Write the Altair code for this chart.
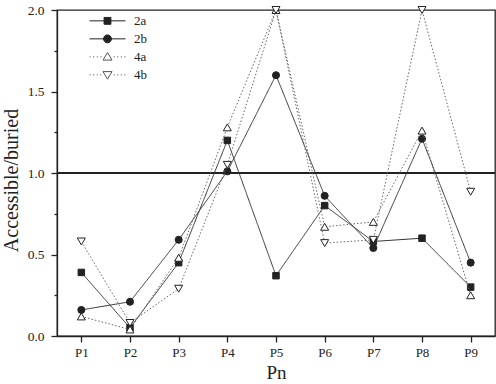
import altair as alt
import pandas as pd

# ---- data ----
positions = ["P1", "P2", "P3", "P4", "P5", "P6", "P7", "P8", "P9"]
series_names = ["2a", "2b", "4a", "4b"]
values_2a = [0.39, 0.05, 0.45, 1.20, 0.37, 0.80, 0.58, 0.60, 0.30]
values_2b = [0.16, 0.21, 0.59, 1.01, 1.60, 0.86, 0.54, 1.21, 0.45]
values_4a = [0.12, 0.04, 0.48, 1.28, 2.00, 0.67, 0.70, 1.26, 0.25]
values_4b = [0.58, 0.08, 0.29, 1.05, 2.00, 0.57, 0.59, 2.00, 0.885]
reference_level = 1.0
y_tick_values = [0.0, 0.25, 0.5, 0.75, 1.0, 1.25, 1.5, 1.75, 2.0]

series_values = {"2a": values_2a, "2b": values_2b, "4a": values_4a, "4b": values_4b}
rows = []
for s in series_names:
    for p, v in zip(positions, series_values[s]):
        rows.append({"series": s, "Pn": p, "value": v})
df = pd.DataFrame(rows)

# ---- styles ----
FONT = "Times New Roman, Liberation Serif, Tinos, serif"
INK = "#222222"
styles = {
    "2a": dict(shape="square", fill=INK, dash=[1, 0], color="#333333", size=42),
    "2b": dict(shape="circle", fill=INK, dash=[1, 0], color="#333333", size=50),
    "4a": dict(shape="triangle-up", fill="white", dash=[1.5, 2], color="#666666", size=64),
    "4b": dict(shape="triangle-down", fill="white", dash=[1.5, 2], color="#666666", size=64),
}

solid = "M-1,0H1"
dots = "M-1,0H-0.94M-0.8,0H-0.74M-0.6,0H-0.54M-0.4,0H-0.34M0.34,0H0.4M0.54,0H0.6M0.74,0H0.8M0.94,0H1"
legend_paths = [
    solid + "M-0.19,-0.19H0.19V0.19H-0.19Z",
    solid + "M0.22,0A0.22,0.22,0,1,1,-0.22,0A0.22,0.22,0,1,1,0.22,0Z",
    dots + "M0,-0.24L0.25,0.18L-0.25,0.18Z",
    dots + "M0,0.24L0.25,-0.18L-0.25,-0.18Z",
]
legend_fills = [styles[s]["fill"] for s in series_names]
legend_strokes = [INK, INK, "#555555", "#555555"]

x_axis = alt.Axis(
    title="Pn", labelAngle=0, tickSize=6, labelPadding=4, titlePadding=4,
    labelFont=FONT, labelFontSize=13, titleFont=FONT, titleFontSize=19,
    titleFontWeight="normal", labelColor=INK, titleColor=INK,
)
y_axis = alt.Axis(
    title="Accessible/buried", values=y_tick_values,
    labelExpr="datum.value % 0.5 == 0 ? format(datum.value, '.1f') : ''",
    tickSize={"condition": {"test": "datum.value % 0.5 != 0", "value": 3}, "value": 6},
    labelPadding=7, titlePadding=6, titleY=170,
    labelFont=FONT, labelFontSize=13.5, titleFont=FONT, titleFontSize=20,
    titleFontWeight="normal", labelColor=INK, titleColor=INK, grid=False,
)
x_scale = alt.Scale(type="point", padding=0.5)
y_scale = alt.Scale(domain=[0, 2], nice=False, zero=False)

x_enc = alt.X("Pn:N", sort=positions, scale=x_scale, axis=x_axis)
y_enc = alt.Y("value:Q", scale=y_scale, axis=y_axis)

base = alt.Chart(df)

layers = []
layers.append(
    base.mark_rule(color=INK, strokeWidth=1.4).encode(
        y=alt.Y(datum=reference_level, type="quantitative", scale=y_scale, axis=y_axis)
    )
)

for s in series_names:
    st = styles[s]
    sub = base.transform_filter(alt.datum.series == s)
    layers.append(
        sub.mark_line(color=st["color"], strokeWidth=1, strokeDash=st["dash"]).encode(
            x=x_enc, y=y_enc
        )
    )
    layers.append(
        sub.mark_point(
            shape=st["shape"], filled=True, fill=st["fill"], stroke=INK,
            strokeWidth=1, size=st["size"], opacity=1,
        ).encode(x=x_enc, y=y_enc)
    )

legend = alt.Legend(
    title=None, orient="none", legendX=32, legendY=2, padding=0,
    symbolSize=1296, clipHeight=17.7, rowPadding=0, labelOffset=8,
    labelFont=FONT, labelFontSize=13, labelColor=INK,
    symbolStrokeWidth=1, symbolOpacity=1,
)
layers.append(
    base.transform_filter("false").mark_point(filled=True, strokeWidth=1, opacity=1).encode(
        x=x_enc, y=y_enc,
        shape=alt.Shape("series:N", scale=alt.Scale(domain=series_names, range=legend_paths), legend=legend),
        fill=alt.Fill("series:N", scale=alt.Scale(domain=series_names, range=legend_fills), legend=legend),
        stroke=alt.Stroke("series:N", scale=alt.Scale(domain=series_names, range=legend_strokes), legend=legend),
    )
)

chart = alt.layer(*layers).properties(
    width=438, height=326,
    autosize=alt.AutoSizeParams(type="none"),
    padding={"left": 57, "top": 10, "right": 1, "bottom": 48},
    background="white",
).configure_view(stroke=INK, strokeWidth=1.3).configure_axis(
    domainColor=INK, domainWidth=1.3, tickColor=INK, tickWidth=1.3
)

chart.save("out.html", embed_options={"renderer": "svg", "actions": False})
